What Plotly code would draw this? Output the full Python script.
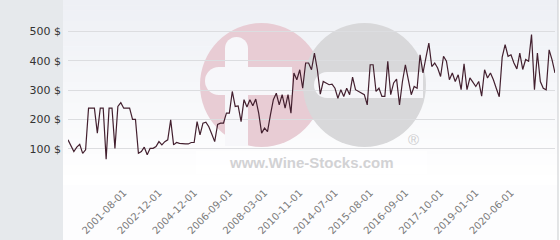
import plotly.graph_objects as go

# ---- data ----
tick_labels = ["2001-08-01", "2002-12-01", "2004-12-01", "2006-09-01", "2008-03-01",
               "2010-11-01", "2014-07-01", "2015-08-01", "2016-09-01", "2017-10-01",
               "2019-01-01", "2020-06-01"]

prices = [130, 110, 90, 105, 115, 84, 96, 238, 238, 238,
          153, 238, 238, 64, 238, 238, 101, 244, 257, 238,
          238, 238, 200, 200, 84, 90, 105, 79, 101, 101,
          107, 124, 113, 124, 130, 198, 113, 121, 118, 116,
          116, 116, 121, 121, 192, 147, 187, 190, 175, 150,
          124, 183, 187, 187, 221, 221, 295, 244, 246, 192,
          267, 242, 267, 246, 269, 221, 153, 170, 158, 215,
          267, 289, 249, 284, 238, 284, 221, 358, 335, 369,
          306, 392, 392, 369, 426, 369, 286, 329, 324, 318,
          320, 306, 272, 301, 278, 306, 284, 344, 301, 295,
          289, 284, 249, 386, 386, 295, 306, 278, 278, 398,
          284, 324, 337, 249, 329, 386, 335, 284, 312, 306,
          420, 358, 410, 460, 380, 392, 375, 346, 415, 398,
          335, 358, 329, 352, 301, 389, 301, 341, 327, 312,
          329, 279, 369, 341, 358, 335, 305, 277, 412, 455,
          415, 420, 392, 372, 426, 370, 404, 398, 489, 301,
          426, 329, 306, 301, 437, 403, 358]

y_ticks = [0, 100, 200, 300, 400, 500]
y_tick_text = ["", "100 $", "200 $", "300 $", "400 $", "500 $"]

# category dates: labelled dates every 12 points, months in between
FIRST_TICK = 19
STEP = 12


def ym(s):
    y, m = int(s[:4]), int(s[5:7])
    return y * 12 + (m - 1)


def fmt(v):
    return f"{v // 12:04d}-{v % 12 + 1:02d}-01"


anchors = [ym(s) for s in tick_labels]
dates = []
for i in range(len(prices)):
    if i < FIRST_TICK:
        dates.append(fmt(anchors[0] - (FIRST_TICK - i)))
    else:
        k, r = divmod(i - FIRST_TICK, STEP)
        if k >= len(anchors) - 1:
            dates.append(fmt(anchors[-1] + (i - FIRST_TICK - STEP * (len(anchors) - 1))))
        else:
            a, b = anchors[k], anchors[k + 1]
            dates.append(fmt(a + round(r * (b - a) / STEP)))

# ---- geometry helpers for decoration (pixel -> paper) ----
L, R, T, B = 68, 5, 2, 62
W, H = 560, 240
PW, PH = W - L - R, H - T - B


def px(x):
    return (x - L) / PW


def py(y):
    return (H - B - y) / PH


def hexmix(c1, c2, t):
    a = [int(c1[i:i + 2], 16) for i in (1, 3, 5)]
    b = [int(c2[i:i + 2], 16) for i in (1, 3, 5)]
    return "#" + "".join(f"{round(a[j] + (b[j] - a[j]) * t):02x}" for j in range(3))


shapes = []
# gradient background of the chart panel
bands = 36
top_c, bot_c = "#eef0f5", "#ffffff"
for j in range(bands):
    y0 = j * 185 / bands
    y1 = (j + 1) * 185 / bands + 0.5
    shapes.append(dict(type="rect", xref="paper", yref="paper", layer="below",
                       x0=px(63), x1=px(558), y0=py(y0), y1=py(y1),
                       fillcolor=hexmix(top_c, bot_c, j / (bands - 1)), line_width=0))
shapes.append(dict(type="rect", xref="paper", yref="paper", layer="below",
                   x0=px(63), x1=px(558), y0=py(185), y1=py(240),
                   fillcolor="#fdfdfe", line_width=0))
# left strip
shapes.append(dict(type="rect", xref="paper", yref="paper", layer="below",
                   x0=px(0), x1=px(63), y0=py(0), y1=py(240),
                   fillcolor="#e6e9ec", line_width=0))
# right border
shapes.append(dict(type="line", xref="paper", yref="paper", layer="below",
                   x0=px(558), x1=px(558), y0=py(0), y1=py(240),
                   line=dict(color="#c9cbce", width=1)))

# watermark
PINK, GREY = "#e8ccd4", "#d8d8da"
shapes.append(dict(type="circle", xref="paper", yref="paper", layer="below",
                   x0=px(200), x1=px(323), y0=py(23), y1=py(147),
                   fillcolor=PINK, line_width=0))
shapes.append(dict(type="circle", xref="paper", yref="paper", layer="below",
                   x0=px(303), x1=px(426), y0=py(23), y1=py(147),
                   fillcolor=GREY, line_width=0))
# plus (white)
shapes.append(dict(type="rect", xref="paper", yref="paper", layer="below",
                   x0=px(225), x1=px(248), y0=py(48), y1=py(146),
                   fillcolor="#f7f7fa", line_width=0))
shapes.append(dict(type="circle", xref="paper", yref="paper", layer="below",
                   x0=px(225), x1=px(248), y0=py(37), y1=py(60),
                   fillcolor="#f7f7fa", line_width=0))
shapes.append(dict(type="rect", xref="paper", yref="paper", layer="below",
                   x0=px(218), x1=px(292), y0=py(67), y1=py(95),
                   fillcolor="#f7f7fa", line_width=0))
shapes.append(dict(type="circle", xref="paper", yref="paper", layer="below",
                   x0=px(205), x1=px(233), y0=py(67), y1=py(95),
                   fillcolor="#f7f7fa", line_width=0))
# minus (white)
shapes.append(dict(type="rect", xref="paper", yref="paper", layer="below",
                   x0=px(327), x1=px(423), y0=py(72), y1=py(98),
                   fillcolor="#f7f7fa", line_width=0))
shapes.append(dict(type="circle", xref="paper", yref="paper", layer="below",
                   x0=px(314), x1=px(340), y0=py(72), y1=py(98),
                   fillcolor="#f7f7fa", line_width=0))
# white box behind url
shapes.append(dict(type="rect", xref="paper", yref="paper", layer="below",
                   x0=px(196), x1=px(427), y0=py(151), y1=py(174),
                   fillcolor="rgba(255,255,255,0.65)", line_width=0))

annotations = [
    dict(text="<b>www.Wine-Stocks.com</b>", xref="paper", yref="paper",
         x=px(311), y=py(162), showarrow=False, xanchor="center", yanchor="middle",
         font=dict(family="Liberation Sans, Arial, sans-serif", size=15, color="#d2d2d4")),
    dict(text="®", xref="paper", yref="paper",
         x=px(413), y=py(139), showarrow=False, xanchor="center", yanchor="middle",
         font=dict(family="Liberation Sans, Arial, sans-serif", size=15, color="#cdcdcf")),
]

fig = go.Figure()
fig.add_trace(go.Scatter(
    x=dates, y=prices, mode="lines",
    line=dict(color="#43202f", width=1.2),
    hoverinfo="x+y", showlegend=False,
))

fig.update_layout(
    width=W, height=H,
    margin=dict(l=L, r=R, t=T, b=B, pad=0),
    paper_bgcolor="#ffffff",
    plot_bgcolor="rgba(0,0,0,0)",
    shapes=shapes,
    annotations=annotations,
    font=dict(family="DejaVu Sans, Verdana, sans-serif"),
    xaxis=dict(
        type="category",
        range=[0, len(prices) - 1],
        autorange=False,
        tickmode="array",
        tickvals=tick_labels,
        ticktext=tick_labels,
        tickangle=-45,
        showgrid=False,
        zeroline=False,
        showline=False,
        ticks="",
        ticklabelstandoff=6,
        tickfont=dict(size=10, color="#7a7a7a"),
    ),
    yaxis=dict(
        range=[0, 600],
        autorange=False,
        tickmode="array",
        tickvals=y_ticks,
        ticktext=y_tick_text,
        showgrid=True,
        gridcolor="#dcdde0",
        gridwidth=1,
        zeroline=False,
        showline=False,
        ticks="",
        ticklabelstandoff=6,
        tickfont=dict(size=11, color="#333333"),
    ),
)

fig.write_html("out.html")
